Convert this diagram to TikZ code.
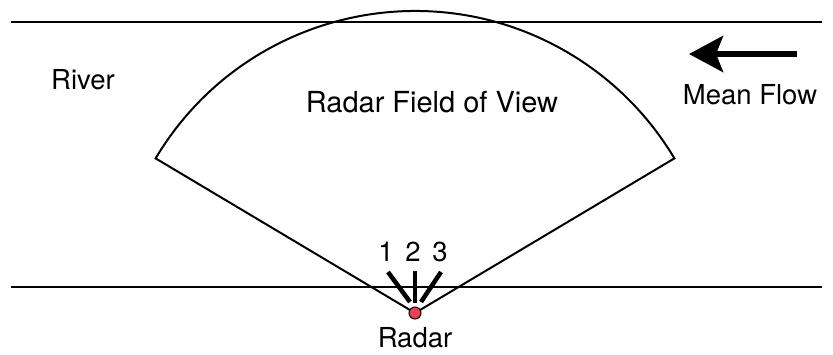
\documentclass[tikz,border=0pt]{standalone}
\usepackage{fontspec}
\setmainfont{TeX Gyre Heros}
\usetikzlibrary{arrows.meta,calc}
\definecolor{radarred}{RGB}{232,66,86}
\begin{document}
\begin{tikzpicture}[x=1pt,y=1pt,
  lbl/.style={inner sep=0pt,font=\fontsize{27.5}{32}\selectfont},
  riverline/.style={line width=2pt},
  fan/.style={line width=2pt,line join=miter},
  tick/.style={line width=4.5pt}]
\useasboundingbox (0,0) rectangle (833,354);
% river banks
\coordinate (tl) at (11,332);
\coordinate (tr) at (822,332);
\coordinate (bl) at (11,67);
\coordinate (br) at (822,67);
\draw[riverline] (tl) -- (tr);
\draw[riverline] (bl) -- (br);
% field of view
\coordinate (rc) at (415,41);
\coordinate (lc) at ($(rc)+(149.2:302)$);
\draw[fan] (rc) -- (lc) arc[start angle=149.2,end angle=30.8,radius=302] -- cycle;
% ticks
\coordinate (t1a) at (388,82); \coordinate (t1b) at (410,52);
\coordinate (t2a) at (415,83); \coordinate (t2b) at (415,51);
\coordinate (t3a) at (441,82); \coordinate (t3b) at (421,52);
\draw[tick] (t1a) -- (t1b);
\draw[tick] (t2a) -- (t2b);
\draw[tick] (t3a) -- (t3b);
\node[lbl] (n1) at (386,102) {1};
\node[lbl] (n2) at (413,102) {2};
\node[lbl] (n3) at (440,102) {3};
% radar
\node[circle,draw=black,line width=1pt,fill=radarred,minimum size=12pt,inner sep=0pt] (radar) at (rc) {};
\node[lbl] (radarlbl) at (415,16) {Radar};
% labels
\node[lbl] (river) at (83,274) {River};
\node[lbl,font=\fontsize{29}{34}\selectfont] (fov) at (432,252) {Radar Field of View};
\node[lbl] (flow) at (750,259) {Mean Flow};
% arrow
\coordinate (as) at (797,300);
\coordinate (ae) at (689,300);
\draw[line width=6pt,-{Stealth[length=34pt,width=36pt,inset=7pt]}] (as) -- (ae);
\end{tikzpicture}
\end{document}
